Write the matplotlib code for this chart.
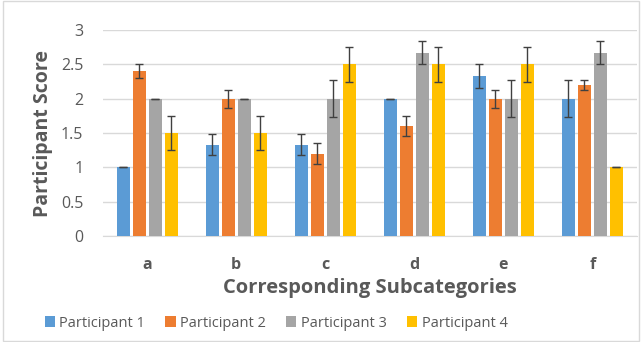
import matplotlib
matplotlib.use("Agg")
import matplotlib.pyplot as plt
import numpy as np

categories = ["a", "b", "c", "d", "e", "f"]
series_names = ["Participant 1", "Participant 2", "Participant 3", "Participant 4"]
p1 = [1.0, 1.33, 1.33, 2.0, 2.33, 2.0]
p2 = [2.4, 2.0, 1.2, 1.6, 2.0, 2.2]
p3 = [2.0, 2.0, 2.0, 2.67, 2.0, 2.67]
p4 = [1.5, 1.5, 2.5, 2.5, 2.5, 1.0]
e1 = [0.0, 0.15, 0.15, 0.0, 0.17, 0.27]
e2 = [0.1, 0.13, 0.15, 0.15, 0.13, 0.08]
e3 = [0.0, 0.0, 0.27, 0.17, 0.27, 0.17]
e4 = [0.25, 0.25, 0.25, 0.25, 0.25, 0.0]
yticks = [0, 0.5, 1, 1.5, 2, 2.5, 3]
ytick_labels = ["0", "0.5", "1", "1.5", "2", "2.5", "3"]

colors = ["#5B9BD5", "#ED7D31", "#A5A5A5", "#FFC000"]
plt.rcParams['font.family'] = ['Open Sans', 'DejaVu Sans']

fig = plt.figure(figsize=(6.42, 3.42), dpi=100)
ax = fig.add_axes([0.160, 0.310, 0.832, 0.602])

x = np.arange(len(categories))
width = 0.146
step = 0.18
vals = [p1, p2, p3, p4]
errs = [e1, e2, e3, e4]
for i, (v, e) in enumerate(zip(vals, errs)):
    ax.bar(x + (i - 1.5) * step, v, width, color=colors[i], label=series_names[i],
           yerr=e, error_kw=dict(ecolor="#404040", elinewidth=1.0, capsize=3, capthick=1.0),
           zorder=3)

ax.set_xlim(-0.5, len(categories) - 0.5)
ax.set_ylim(0, 3)
ax.set_yticks(yticks)
ax.set_yticklabels(ytick_labels)
ax.set_xticks(x)
ax.set_xticklabels(categories, fontweight="bold")
ax.grid(axis="y", color="#D9D9D9", linewidth=1, zorder=0)
for s in ["top", "right", "left"]:
    ax.spines[s].set_visible(False)
ax.spines["bottom"].set_color("#D9D9D9")
ax.tick_params(axis="both", length=0, labelsize=11.5, colors="#595959")
ax.tick_params(axis="x", pad=15)
ax.tick_params(axis="y", pad=14)
ax.set_ylabel("Participant Score", fontsize=14, fontweight="bold", color="#595959", labelpad=6)
ax.set_xlabel("Corresponding Subcategories", fontsize=14.5, fontweight="bold", color="#595959", labelpad=4)

leg = fig.legend(loc="lower center", bbox_to_anchor=(0.43, -0.005), ncol=4, frameon=False,
                 fontsize=10.5, handlelength=0.7, handleheight=0.7, handletextpad=0.3,
                 columnspacing=1.4, labelcolor="#595959")

fig.patches.append(plt.Rectangle((0.005, 0.003), 0.99, 0.994, transform=fig.transFigure,
                                 fill=False, edgecolor="#D9D9D9", linewidth=1))
fig.savefig("out.png", dpi=100)
